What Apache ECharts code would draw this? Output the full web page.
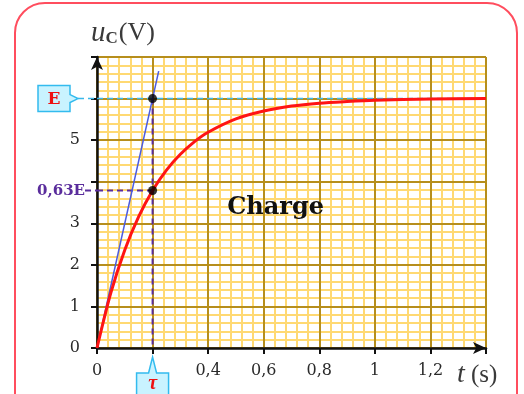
<!DOCTYPE html>
<html><head><meta charset="utf-8">
<script src="https://cdn.jsdelivr.net/npm/echarts@6/dist/echarts.min.js"></script>
<style>html,body{margin:0;padding:0;background:#fff}#c{width:524px;height:394px}</style>
</head><body><div id="c"></div>
<script>
// data
const tValues = [0, 0.05, 0.1, 0.15, 0.2, 0.25, 0.3, 0.35, 0.4, 0.5, 0.6, 0.7, 0.8, 0.9, 1.0, 1.2, 1.4];
const ucValues = [0, 1.33, 2.36, 3.16, 3.79, 4.28, 4.66, 4.96, 5.19, 5.51, 5.70, 5.82, 5.89, 5.93, 5.96, 5.99, 6.0];
const tangentT = [0, 0.222];
const tangentU = [0, 6.66];
const E = 6;
const tau = 0.2;
const u63 = 3.79;
const xTickLabels = {0: '0', 0.4: '0,4', 0.6: '0,6', 0.8: '0,8', 1: '1', 1.2: '1,2'};
const yTickLabels = {0: '0', 1: '1', 2: '2', 3: '3', 5: '5'};

const curve = tValues.map((t, i) => [t, ucValues[i]]);
const tangent = tangentT.map((t, i) => [t, tangentU[i]]);

const chart = echarts.init(document.getElementById('c'), null, {renderer: 'canvas'});
const serif = '"DejaVu Serif", "Liberation Serif", serif';
const lserif = '"Liberation Serif", "DejaVu Serif", serif';
const major = '#b68e1c';
const minor = '#ffd972';
function axisBase(extra) {
  return Object.assign({type: 'value'}, extra);
}
const option = {
  animation: false,
  grid: {left: 97, right: 38, top: 57, bottom: 46},
  xAxis: [
    axisBase({min: 0, max: 1.4, interval: 0.2, z: 1,
      axisLine: {show: true, onZero: false, symbol: ['none', 'arrow'], symbolSize: [9, 13], lineStyle: {color: '#111', width: 2.5}},
      axisTick: {show: true, length: 6, lineStyle: {color: '#111', width: 2}},
      axisLabel: {margin: 15, fontFamily: serif, fontSize: 16, color: '#2a2a2a',
        formatter: v => { const k = Math.round(v * 10) / 10; return xTickLabels[k] !== undefined ? xTickLabels[k] : ''; }},
      splitLine: {show: true, lineStyle: {color: major, width: 2}}
    }),
    axisBase({min: 0, max: 1.4, interval: 0.2, z: 0, axisLine: {show: false}, axisTick: {show: false}, axisLabel: {show: false},
      splitLine: {show: false}, minorTick: {show: false, splitNumber: 5},
      minorSplitLine: {show: true, lineStyle: {color: minor, width: 2}}})
  ],
  yAxis: [
    axisBase({min: 0, max: 7, interval: 1, z: 1,
      axisLine: {show: true, onZero: false, symbol: ['none', 'arrow'], symbolSize: [9, 13], lineStyle: {color: '#111', width: 2.5}},
      axisTick: {show: true, length: 6, lineStyle: {color: '#111', width: 2}},
      axisLabel: {margin: 17, fontFamily: serif, fontSize: 16, color: '#2a2a2a',
        formatter: v => yTickLabels[v] !== undefined ? yTickLabels[v] : ''},
      splitLine: {show: true, lineStyle: {color: major, width: 2}}
    }),
    axisBase({min: 0, max: 7, interval: 1, z: 0, axisLine: {show: false}, axisTick: {show: false}, axisLabel: {show: false},
      splitLine: {show: false}, minorTick: {show: false, splitNumber: 5},
      minorSplitLine: {show: true, lineStyle: {color: minor, width: 2}}})
  ],
  series: [
    {type: 'line', name: 'E', data: [[0, E], [1.4, E]], showSymbol: false, z: 2,
      lineStyle: {color: '#3ab8ea', width: 1.5, type: [6, 4]}},
    {type: 'line', name: 'tauV', data: [[tau, E], [tau, 0]], showSymbol: false, z: 2,
      lineStyle: {color: '#5a2d9c', width: 2, type: [6, 4]}},
    {type: 'line', name: 'u63', data: [[0, u63], [tau, u63]], showSymbol: false, z: 2,
      lineStyle: {color: '#5a2d9c', width: 2, type: [6, 4]}},
    {type: 'line', name: 'tangent', data: tangent, showSymbol: false, z: 3, clip: false,
      lineStyle: {color: '#4b5be0', width: 1.5}},
    {type: 'line', name: 'charge', data: curve, smooth: 0.3, showSymbol: false, z: 4,
      lineStyle: {color: '#ff1414', width: 3}},
    {type: 'scatter', data: [[tau, E], [tau, u63]], symbolSize: 9, z: 5,
      itemStyle: {color: '#000'}}
  ]
};
chart.setOption(option);

const pE = chart.convertToPixel({gridIndex: 0}, [0, E]);
const p63 = chart.convertToPixel({gridIndex: 0}, [0, u63]);
const pTau = chart.convertToPixel({gridIndex: 0}, [tau, 0]);
const pCharge = chart.convertToPixel({gridIndex: 0}, [0.643, 3.38]);
const pOrigin = chart.convertToPixel({gridIndex: 0}, [0, 0]);
const pTop = chart.convertToPixel({gridIndex: 0}, [0, 7]);
const pRight = chart.convertToPixel({gridIndex: 0}, [1.4, 0]);

const ex = pE[0], ey = pE[1];
const tx = pTau[0], ty = pTau[1];
chart.setOption({
  graphic: [
    {type: 'rect', shape: {x: 15, y: 3, width: 502, height: 440, r: 30},
      style: {fill: 'none', stroke: '#ff4d5e', lineWidth: 2}, z: 100},
    // E callout
    {type: 'line', shape: {x1: ex - 19, y1: ey, x2: ex, y2: ey}, style: {stroke: '#3ab8ea', lineWidth: 1.5, lineDash: [6, 4]}, z: 50},
    {type: 'polygon', shape: {points: [[ex - 59, ey - 13], [ex - 27, ey - 13], [ex - 27, ey - 4], [ex - 19, ey], [ex - 27, ey + 4], [ex - 27, ey + 13], [ex - 59, ey + 13]]},
      style: {fill: '#c9f3ff', stroke: '#33bbee', lineWidth: 1.5}, z: 51},
    {type: 'text', x: ex - 43, y: ey + 1, style: {text: 'E', fill: '#ee1111', font: 'bold 17px ' + serif, align: 'center', verticalAlign: 'middle'}, z: 52},
    // 0,63E label
    {type: 'line', shape: {x1: p63[0] - 12, y1: p63[1], x2: p63[0], y2: p63[1]}, style: {stroke: '#5a2d9c', lineWidth: 2, lineDash: [6, 4]}, z: 50},
    {type: 'text', x: p63[0] - 12, y: p63[1] + 1, style: {text: '0,63E', fill: '#5a2d9c', font: 'bold 15px ' + serif, align: 'right', verticalAlign: 'middle'}, z: 52},
    // tau callout
    {type: 'polygon', shape: {points: [[tx - 16, ty + 25], [tx - 4, ty + 25], [tx, ty + 9], [tx + 4, ty + 25], [tx + 16, ty + 25], [tx + 16, ty + 60], [tx - 16, ty + 60]]},
      style: {fill: '#c9f3ff', stroke: '#33bbee', lineWidth: 1.5}, z: 51},
    {type: 'text', x: tx, y: ty + 36, style: {text: 'τ', fill: '#ee1111', font: 'italic bold 20px ' + lserif, align: 'center', verticalAlign: 'middle'}, z: 52},
    // axis titles
    {type: 'text', x: pTop[0] - 6, y: pTop[1] - 24, style: {
      rich: {i: {font: 'italic 29px ' + lserif, fill: '#3a3a3a'}, s: {font: 'bold 17px ' + lserif, fill: '#3a3a3a', padding: [12, 1, 0, 0]}, n: {font: '26px ' + lserif, fill: '#3a3a3a'}},
      text: '{i|u}{s|C}{n|(V)}', verticalAlign: 'middle', align: 'left'}, z: 52},
    {type: 'text', x: pRight[0] - 29, y: pOrigin[1] + 27, style: {
      rich: {i: {font: 'italic 28px ' + lserif, fill: '#3a3a3a'}, n: {font: '25px ' + lserif, fill: '#3a3a3a'}},
      text: '{i|t}{n| (s)}', verticalAlign: 'middle', align: 'left'}, z: 52},
    // Charge
    {type: 'text', x: pCharge[0], y: pCharge[1], style: {text: 'Charge', fill: '#111', font: 'bold 24px "DejaVu Serif", serif', align: 'center', verticalAlign: 'middle'}, z: 52}
  ]
});
</script>
</body></html>
